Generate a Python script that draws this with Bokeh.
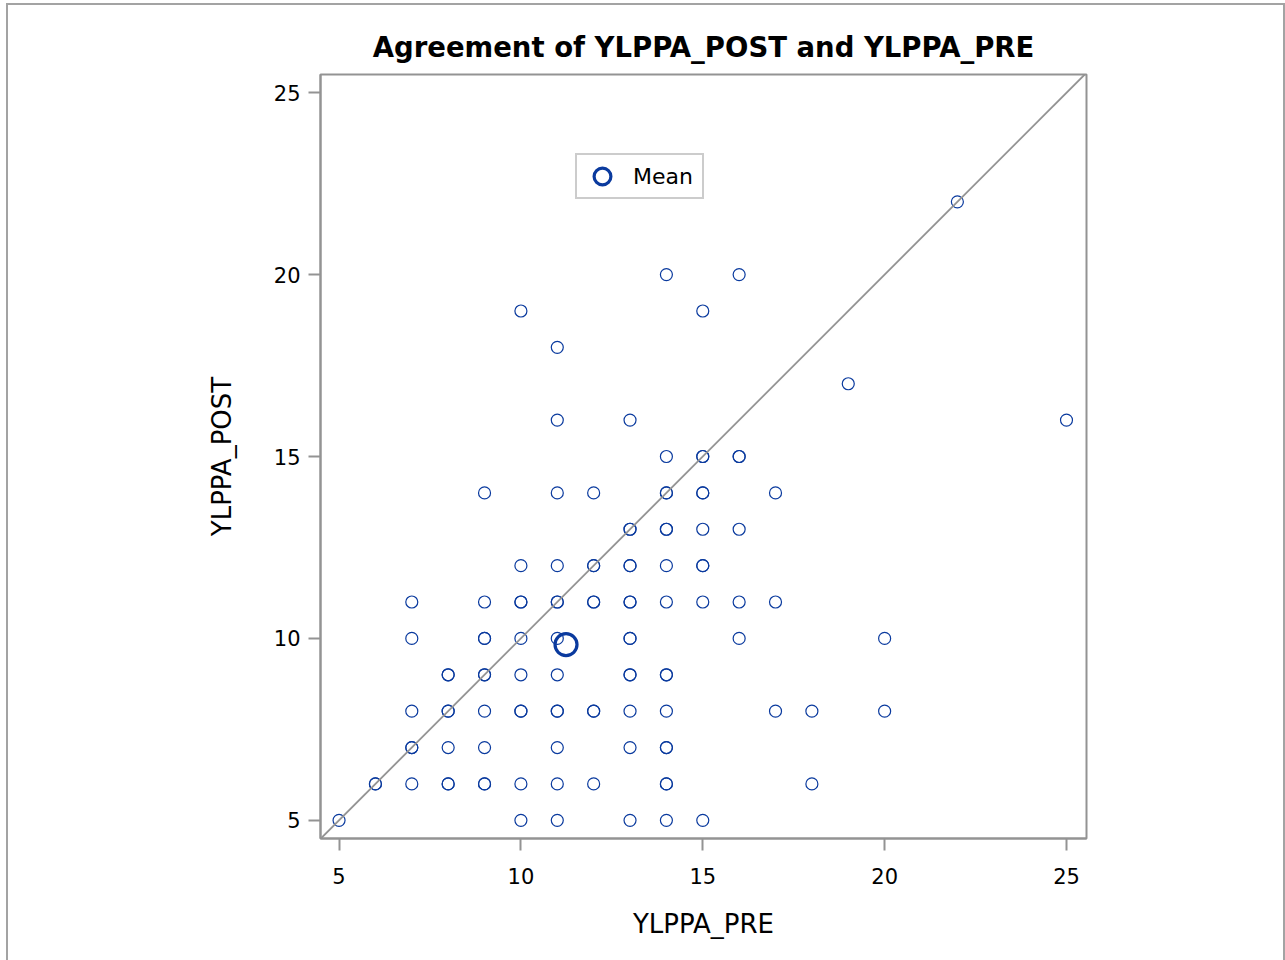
from bokeh.plotting import figure
from bokeh.models import Range1d, Slope, Legend, LegendItem, ColumnDataSource, FixedTicker
from bokeh.embed import file_html
from bokeh.resources import INLINE

# Observations (repeated pairs are listed once per occurrence)
ylppa_pre = [
    5, 10, 11, 13, 14, 15,
    6, 6, 7, 8, 8, 9, 9, 10, 11, 12, 14, 14, 18,
    7, 7, 8, 9, 11, 13, 14, 14,
    7, 8, 8, 9, 10, 10, 11, 11, 12, 12, 13, 14, 17, 18, 20,
    8, 8, 9, 9, 10, 11, 13, 13, 14, 14,
    7, 9, 9, 10, 11, 13, 13, 16, 20,
    7, 9, 10, 10, 11, 11, 12, 12, 13, 13, 14, 15, 16, 17,
    10, 11, 12, 12, 13, 13, 14, 15, 15,
    13, 13, 14, 14, 15, 16,
    9, 11, 12, 14, 14, 15, 15, 17,
    14, 15, 15, 16, 16,
    11, 13, 25,
    19,
    11,
    10, 15,
    14, 16,
    22,
]
ylppa_post = (
    [5] * 6 + [6] * 13 + [7] * 8 + [8] * 15 + [9] * 10 + [10] * 9 + [11] * 14
    + [12] * 9 + [13] * 6 + [14] * 8 + [15] * 5 + [16] * 3 + [17] + [18]
    + [19] * 2 + [20] * 2 + [22]
)
mean_pre = [11.24]
mean_post = [9.83]
tick_values = [5, 10, 15, 20, 25]

title_text = "Agreement of YLPPA_POST and YLPPA_PRE"
x_label = "YLPPA_PRE"
y_label = "YLPPA_POST"

BLUE = "#0a3a9e"
GRAY = "#939393"
FONT = "DejaVu Sans"

p = figure(
    frame_width=766, frame_height=764,
    x_range=Range1d(4.49, 25.55), y_range=Range1d(4.5, 25.5),
    output_backend="svg", toolbar_location=None,
    min_border_left=312, min_border_right=197,
    min_border_top=69, min_border_bottom=122,
    title=title_text,
)
p.styles = {"outline": "2px solid #a3a3a3", "margin-left": "8px", "margin-top": "5px"}
p.background_fill_color = "white"
p.border_fill_color = "white"
p.outline_line_color = GRAY
p.outline_line_width = 2
p.xgrid.visible = False
p.ygrid.visible = False

p.title.align = "center"
p.title.text_font = FONT
p.title.text_font_style = "bold"
p.title.text_font_size = "27.5px"
p.title.text_color = "black"
p.title.standoff = 23

for ax in (p.xaxis[0], p.yaxis[0]):
    ax.ticker = FixedTicker(ticks=tick_values)
    ax.axis_line_color = GRAY
    ax.axis_line_width = 2
    ax.major_tick_line_color = GRAY
    ax.major_tick_line_width = 2
    ax.major_tick_out = 12
    ax.major_tick_in = 0
    ax.minor_tick_line_color = None
    ax.major_label_text_font = FONT
    ax.major_label_text_font_size = "21px"
    ax.major_label_text_color = "black"
    ax.axis_label_text_font = FONT
    ax.axis_label_text_font_size = "26px"
    ax.axis_label_text_font_style = "normal"
    ax.axis_label_text_color = "black"

p.xaxis.axis_label = x_label
p.yaxis.axis_label = y_label
p.xaxis.major_label_standoff = 17
p.yaxis.major_label_standoff = 8
p.xaxis.axis_label_standoff = 22
p.yaxis.axis_label_standoff = 34

p.add_layout(Slope(gradient=1, y_intercept=0, line_color=GRAY, line_width=1.8))

src = ColumnDataSource(dict(x=ylppa_pre, y=ylppa_post))
p.scatter("x", "y", source=src, marker="circle", size=12, fill_color=None,
          line_color=BLUE, line_width=1.2)

msrc = ColumnDataSource(dict(x=mean_pre, y=mean_post))
r_mean = p.scatter("x", "y", source=msrc, marker="circle", size=22, fill_color=None,
                   line_color=BLUE, line_width=3.2)

legend = Legend(
    items=[LegendItem(label="Mean", renderers=[r_mean])],
    location=(255, 639),
    glyph_width=50, glyph_height=42,
    padding=0, margin=0, spacing=0,
    label_standoff=6, label_width=69,
    label_text_font=FONT, label_text_font_size="22px",
    label_text_color="black",
    border_line_color="#999999", border_line_width=2,
    background_fill_color="white", background_fill_alpha=1,
)
p.add_layout(legend)

open("out.html", "w").write(file_html(p, INLINE))
